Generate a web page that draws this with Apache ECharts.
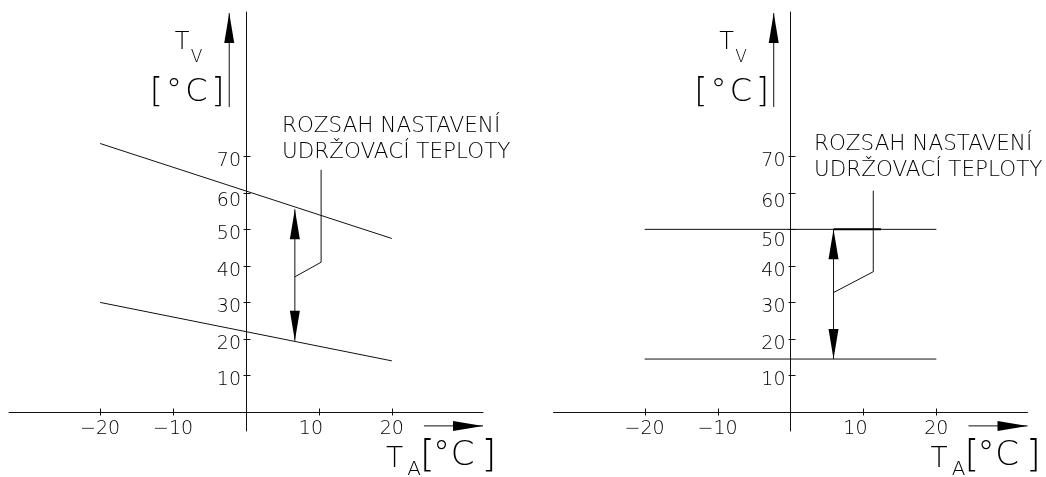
<!DOCTYPE html>
<html>
<head>
<meta charset="utf-8">
<script src="https://cdn.jsdelivr.net/npm/echarts@6/dist/echarts.min.js"></script>
<style>
  html, body { margin: 0; padding: 0; background: #fff; }
  #chart { width: 1046px; height: 477px; }
</style>
</head>
<body>
<div id="chart"></div>
<script>
// Tick values: ambient temperature T_A and water temperature T_V, both in °C
const xTicks = [-20, -10, 10, 20];
const yTicks = [10, 20, 30, 40, 50, 60, 70];

// Left diagram: holding-temperature band that falls with outdoor temperature
const leftUpper = [[-20, 73.5], [20, 47.5]];
const leftLower = [[-20, 30], [20, 14]];
const leftRange = [6.7, 19.5, 55.5];            // x, low end, high end of the range arrow
const leftLeader = [[6.7, 37], [10.3, 41], [10.3, 66.3]];

// Right diagram: constant holding-temperature band
const rightUpper = [[-20, 50], [20, 50]];
const rightLower = [[-20, 14.5], [20, 14.5]];
const rightRange = [5.9, 14.5, 50];
const rightLeader = [[5.9, 32.7], [11.35, 38.4], [11.35, 60.6]];
const rightCap = [[5.9, 50], [12.4, 50]];

// Axis direction arrows (same in both diagrams)
const yDirArrow = [-2.3, 83.5, 109.2];          // x, from, to
const xDirArrow = [-3.8, 24.4, 32.5];           // y, from, to

const noteLines = ['ROZSAH NASTAVENÍ', 'UDRŽOVACÍ TEPLOTY'];

const FONT = '"DejaVu Sans", sans-serif';
const WEIGHT = 200;
const INK = '#111';
const TEXT_INK = '#000';

// Axis ranges; the axes cross at 0/0
const X_MIN = -32.5, X_MAX = 32.5, Y_MIN = -5.2, Y_MAX = 109.5;
const GRID_W = 474, GRID_H = 419;

const panels = [
  { left: 9, upper: leftUpper, lower: leftLower, range: leftRange, leader: leftLeader, cap: null,
    note: { x: 282, y: 126 }, yDrop: { 60: 8 }, dx: 0 },
  { left: 553.5, upper: rightUpper, lower: rightLower, range: rightRange, leader: rightLeader, cap: rightCap,
    note: { x: 814, y: 144.5 }, yDrop: { 50: 12, 60: 9 }, dx: 544.5 }
];
const DEFAULT_DROP = 5;

const chart = echarts.init(document.getElementById('chart'), null, { renderer: 'canvas' });

// Straight segment with optional triangular heads, in pixel space from data coords
function renderArrow(params, api) {
  const a = api.coord([api.value(0), api.value(1)]);
  const b = api.coord([api.value(2), api.value(3)]);
  const headA = api.value(4), headB = api.value(5);
  const L = 30, H = 5;
  const len = Math.hypot(b[0] - a[0], b[1] - a[1]);
  const d = [(b[0] - a[0]) / len, (b[1] - a[1]) / len];
  const n = [-d[1], d[0]];
  const children = [{
    type: 'line',
    shape: { x1: a[0], y1: a[1], x2: b[0], y2: b[1] },
    style: { stroke: INK, lineWidth: 1 }
  }];
  function head(tip, dir) {
    const base = [tip[0] - dir[0] * L, tip[1] - dir[1] * L];
    return {
      type: 'polygon',
      shape: { points: [tip, [base[0] + n[0] * H, base[1] + n[1] * H], [base[0] - n[0] * H, base[1] - n[1] * H]] },
      style: { fill: '#000' }
    };
  }
  if (headB) children.push(head(b, d));
  if (headA) children.push(head(a, [-d[0], -d[1]]));
  return { type: 'group', children };
}

// Tick marks that cross the axis line on both sides
function renderTick(params, api) {
  const p = api.coord([api.value(0), api.value(1)]);
  const vertical = api.value(1) === 0;
  const x = Math.round(p[0]) + 0.5, y = Math.round(p[1]) + 0.5;
  const shape = vertical ? { x1: x, y1: y - 4, x2: x, y2: y + 3 } : { x1: x - 3, y1: y, x2: x + 4, y2: y };
  return { type: 'line', shape, style: { stroke: INK, lineWidth: 1 } };
}

const grids = [], xAxes = [], yAxes = [], series = [], graphics = [];

panels.forEach((pn, i) => {
  grids.push({ left: pn.left, top: 12, width: GRID_W, height: GRID_H, outerBoundsMode: 'none', containLabel: false });

  // pixel distance from the grid edges to the zero lines
  const zeroFromLeft = GRID_W * (0 - X_MIN) / (X_MAX - X_MIN);
  const zeroFromBottom = GRID_H * (0 - Y_MIN) / (Y_MAX - Y_MIN);

  const xRich = {
    n: { fontFamily: FONT, fontWeight: WEIGHT, fontSize: 19, color: TEXT_INK },
    s: { fontFamily: FONT, fontWeight: WEIGHT, fontSize: 19, color: TEXT_INK, padding: [0, 16, 0, 0] }
  };
  xAxes.push({
    type: 'value', gridIndex: i, min: X_MIN, max: X_MAX, position: 'bottom', offset: -zeroFromBottom,
    axisLine: { onZero: false, lineStyle: { color: INK, width: 1 } },
    axisTick: { show: false }, splitLine: { show: false },
    axisLabel: {
      customValues: xTicks, margin: 8,
      fontFamily: FONT, fontWeight: WEIGHT, fontSize: 19, color: TEXT_INK,
      formatter: v => (v === 10 ? '{s|' : '{n|') + (v < 0 ? '\u2212' + Math.abs(v) : String(v)) + '}',
      rich: xRich
    }
  });

  const yRich = {};
  yTicks.forEach(v => {
    const d = pn.yDrop[v] !== undefined ? pn.yDrop[v] : DEFAULT_DROP;
    yRich['d' + d] = { fontFamily: FONT, fontWeight: WEIGHT, fontSize: 19, color: TEXT_INK, padding: [2 * d, 0, 0, 0] };
  });
  yAxes.push({
    type: 'value', gridIndex: i, min: Y_MIN, max: Y_MAX, position: 'left', offset: -zeroFromLeft,
    axisLine: { onZero: false, lineStyle: { color: INK, width: 1 } },
    axisTick: { show: false }, splitLine: { show: false },
    axisLabel: {
      customValues: yTicks, margin: 5,
      fontFamily: FONT, fontWeight: WEIGHT, fontSize: 19, color: TEXT_INK,
      formatter: v => {
        const d = pn.yDrop[v] !== undefined ? pn.yDrop[v] : DEFAULT_DROP;
        return '{d' + d + '|' + v + '}';
      },
      rich: yRich
    }
  });

  const lineBase = { type: 'line', xAxisIndex: i, yAxisIndex: i, showSymbol: false, symbol: 'none',
    silent: true, animation: false, clip: false };
  series.push(Object.assign({}, lineBase, { data: pn.upper, lineStyle: { color: INK, width: 1 } }));
  series.push(Object.assign({}, lineBase, { data: pn.lower, lineStyle: { color: INK, width: 1 } }));
  series.push(Object.assign({}, lineBase, { data: pn.leader, lineStyle: { color: INK, width: 1 } }));
  if (pn.cap) series.push(Object.assign({}, lineBase, { data: pn.cap, lineStyle: { color: '#000', width: 2 } }));

  series.push({
    type: 'custom', xAxisIndex: i, yAxisIndex: i, silent: true, animation: false, clip: false,
    renderItem: renderArrow, encode: { x: [0, 2], y: [1, 3] },
    data: [
      [pn.range[0], pn.range[1], pn.range[0], pn.range[2], 1, 1],
      [yDirArrow[0], yDirArrow[1], yDirArrow[0], yDirArrow[2], 0, 1],
      [xDirArrow[1], xDirArrow[0], xDirArrow[2], xDirArrow[0], 0, 1]
    ]
  });
  series.push({
    type: 'custom', xAxisIndex: i, yAxisIndex: i, silent: true, animation: false, clip: false,
    renderItem: renderTick, encode: { x: 0, y: 1 },
    data: xTicks.map(v => [v, 0]).concat(yTicks.map(v => [0, v]))
  });

  // Axis names and the range note
  const t = (x, y, text, size, align) => ({
    type: 'text', x: x + pn.dx, y, silent: true,
    style: { text, fontFamily: FONT, fontWeight: WEIGHT, fontSize: size, fill: TEXT_INK,
      align: align || 'center', verticalAlign: 'middle' }
  });
  graphics.push(
    t(182, 43, 'T', 24), t(196.5, 58, 'V', 17),
    t(156.5, 93, '[', 34), t(174, 93, '°', 32), t(196.5, 93, 'C', 32), t(218, 93, ']', 34),
    t(394.5, 460, 'T', 28), t(414, 469.5, 'A', 20),
    t(427.5, 456, '[', 38), t(441.5, 456, '°', 34), t(462.5, 456, 'C', 34), t(489, 456, ']', 38)
  );
  noteLines.forEach((s, k) => {
    graphics.push({
      type: 'text', x: pn.note.x, y: pn.note.y + k * 26, silent: true,
      style: { text: s, fontFamily: FONT, fontWeight: WEIGHT, fontSize: 21.5, fill: TEXT_INK,
        align: 'left', verticalAlign: 'middle' }
    });
  });
});

chart.setOption({
  backgroundColor: '#fff',
  animation: false,
  grid: grids,
  xAxis: xAxes,
  yAxis: yAxes,
  series,
  graphic: graphics
});
</script>
</body>
</html>
